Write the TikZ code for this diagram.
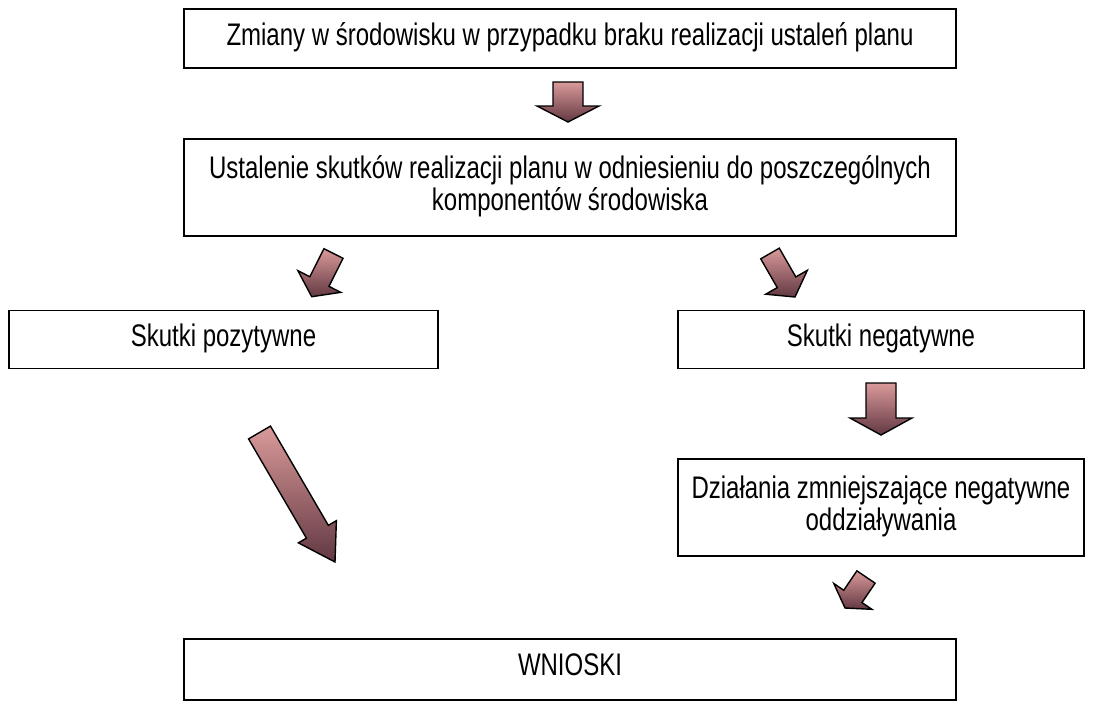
\documentclass[tikz,border=0pt]{standalone}
\usepackage{fontspec}
\usepackage{graphicx}
\setmainfont{Liberation Sans}
\usetikzlibrary{calc}
\definecolor{arrtop}{RGB}{218,154,154}
\definecolor{arrbot}{RGB}{98,56,66}
\newcommand\tallText[1]{\scalebox{1}[1.3]{\begin{tabular}{@{}c@{}}#1\end{tabular}}}
\tikzset{
  box/.style={draw=black, line width=1.1pt, fill=white, inner sep=4pt, align=center,
    font=\fontsize{24}{24}\selectfont},
  blockarrow/.style={draw=black, line width=1.4pt, line join=miter, top color=arrtop, bottom color=arrbot}
}
% #1 start coordinate name, #2 tip coordinate name, #3 half shaft width, #4 half head width, #5 head length
\newcommand\fatarrow[5]{%
  \coordinate (hb) at ($(#2)!#5!(#1)$);
  \path[blockarrow]
    ($(#1)!#3!90:(#2)$) -- ($(hb)!#3!-90:(#1)$) -- ($(hb)!#4!-90:(#1)$) -- (#2)
    -- ($(hb)!#4!90:(#1)$) -- ($(hb)!#3!90:(#1)$) -- ($(#1)!#3!-90:(#2)$) -- cycle;
}
\begin{document}
\begin{tikzpicture}[x=1pt,y=-1pt]
\useasboundingbox[fill=white] (0,0) rectangle (1095,704);

\node[box, minimum width=772pt, minimum height=59pt] (b1) at (570,38.5)
  {\tallText{Zmiany w środowisku w przypadku braku realizacji ustaleń planu}};
\node[box, minimum width=772pt, minimum height=97pt] (b2) at (570,187.5)
  {\tallText{Ustalenie skutków realizacji planu w odniesieniu do poszczególnych\\komponentów środowiska}};
\node[box, minimum width=429pt, minimum height=58pt] (b3) at (223.5,339.5)
  {\tallText{Skutki pozytywne}};
\node[box, minimum width=406pt, minimum height=58pt] (b4) at (881,339.5)
  {\tallText{Skutki negatywne}};
\node[box, minimum width=406pt, minimum height=97pt] (b5) at (881,507.5)
  {\tallText{Działania zmniejszające negatywne\\oddziaływania}};
\node[box, minimum width=772pt, minimum height=61pt] (b6) at (570,669.5)
  {\tallText{WNIOSKI}};

\coordinate (a1s) at (568,82);    \coordinate (a1t) at (568,122);
\coordinate (a2s) at (333.5,253.5); \coordinate (a2t) at (311.7,296.7);
\coordinate (a3s) at (770,253.5); \coordinate (a3t) at (795,297);
\coordinate (a4s) at (259.5,432.5); \coordinate (a4t) at (335,562);
\coordinate (a5s) at (881,383);   \coordinate (a5t) at (881,435);
\coordinate (a6s) at (866,577);   \coordinate (a6t) at (845,608);

\fatarrow{a1s}{a1t}{15pt}{31pt}{16pt}
\fatarrow{a2s}{a2t}{10.7pt}{24pt}{17pt}
\fatarrow{a3s}{a3t}{10.7pt}{24pt}{17pt}
\fatarrow{a4s}{a4t}{12.7pt}{22pt}{35pt}
\fatarrow{a5s}{a5t}{15pt}{31pt}{17pt}
\fatarrow{a6s}{a6t}{11pt}{23pt}{14pt}
\end{tikzpicture}
\end{document}
